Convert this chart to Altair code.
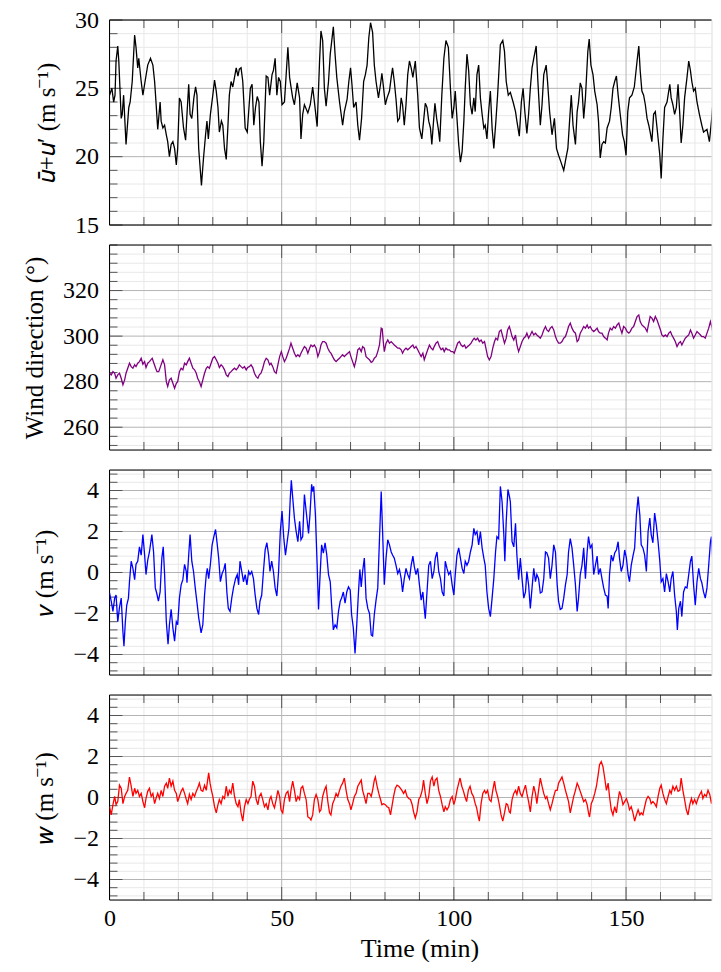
import altair as alt
import pandas as pd

# ---------------- data ----------------
u_t = [0.0, 0.7, 1.2, 1.6, 1.9, 2.4, 2.7, 3.4, 3.7, 4.1, 4.8, 5.6, 6.0, 6.6, 7.3, 7.7, 8.2, 8.5, 9.2, 9.7,
       10.2, 11.1, 11.9, 12.6, 13.1, 13.5, 14.0, 14.7, 15.0, 15.5, 16.0, 16.5, 16.9, 17.4, 17.9, 18.4, 18.9, 19.4, 19.8,
       20.3, 20.8, 21.5, 22.1, 22.5, 23.0, 23.4, 23.9, 24.5, 25.0, 25.4, 25.9, 26.7, 27.3, 27.9, 28.3, 28.7, 29.3,
       30.0, 30.5, 31.0, 31.5, 31.9, 32.5, 32.9, 33.4, 33.9, 34.4, 34.8, 35.3, 35.8, 36.3, 36.8, 37.3, 37.7, 38.2, 38.7,
       39.4, 40.0, 40.5, 40.9, 41.4, 41.9, 42.4, 42.9, 43.4, 43.8, 44.3, 44.8, 45.5, 46.0, 46.5, 47.2, 47.6, 48.1, 48.6,
       49.1, 49.6, 50.1, 50.8, 51.3, 51.8, 52.3, 52.7, 53.2, 53.7, 54.5, 55.2, 55.6, 56.1,
       56.6, 57.6, 58.3, 59.0, 59.5, 60.3, 61.0, 61.4, 61.9, 62.4, 62.9, 63.6, 64.1, 65.0, 65.5, 66.0, 66.8, 67.7, 68.2,
       69.0, 69.5, 70.0, 70.4, 70.9, 71.6, 72.1, 72.6, 73.2, 73.8, 74.3, 74.8, 75.3, 75.8, 76.4, 76.9, 77.4, 78.1, 78.7,
       79.1, 79.6, 80.1, 80.6, 81.3, 81.8, 82.2, 82.7, 83.2, 83.7, 84.2, 84.7, 85.1, 85.6, 86.1, 86.6, 87.1, 87.6, 88.1,
       88.8, 89.5, 90.0, 90.7, 91.2, 91.7, 92.2, 92.7, 93.2, 93.6, 94.1, 94.5, 95.0, 95.5, 95.9, 96.5, 97.1, 97.7, 98.4,
       99.0, 99.5, 100.0, 100.4, 100.9, 101.4, 101.9, 102.4, 102.9, 103.3, 103.8, 104.3, 104.8, 105.3, 105.8, 106.2,
       106.7, 107.2, 107.7, 108.2, 108.7, 109.1, 109.6, 110.1, 110.6, 111.1, 111.6, 112.2, 112.7, 113.5, 114.2, 114.7,
       115.2, 115.8,
       116.4, 117.2, 117.9, 118.3, 119.0, 119.6, 120.1, 120.6, 121.2, 121.7, 122.2, 122.7, 123.2, 123.9, 124.4, 125.1,
       125.6, 126.1, 126.8, 127.2, 127.8, 128.5, 129.2, 129.8, 130.4, 131.1, 131.9, 132.7, 133.1, 133.6, 134.1, 134.6,
       135.3, 135.8, 136.2, 136.7, 137.2, 137.7, 138.2, 138.9, 139.3, 139.8, 140.4, 140.9, 141.6, 142.0, 142.5, 143.0,
       143.5, 144.0, 144.5, 145.2, 145.7, 146.2, 146.7, 147.2, 147.7, 148.3, 149.0, 149.5, 150.0, 150.5, 151.0, 151.7,
       152.4, 153.2, 153.7, 154.1, 154.6, 155.1, 155.6, 156.1, 156.6, 157.0, 157.5, 158.0, 158.5, 159.0, 159.8, 160.2,
       160.7, 161.2, 161.9, 162.7, 163.1, 163.6, 164.1, 164.6, 165.1, 165.6, 166.0, 166.5, 167.0, 167.7, 168.2, 168.7,
       169.1, 169.6, 170.1, 170.6, 171.3, 172.0, 172.5, 173.5, 174.2, 174.8, 175.4, 175.9, 176.4, 177.2]
u_val = [24.5, 25.0, 24.0, 24.5, 27.0, 28.1, 27.0, 22.8, 23.1, 24.5, 20.9, 23.6, 24.0, 25.5, 28.9, 28.0, 26.5, 27.2, 25.5, 24.5,
         25.3, 26.7, 27.2, 26.7, 25.5, 24.0, 22.0, 24.0, 22.6, 22.1, 22.3, 21.6, 21.1, 20.0, 20.9, 21.1, 20.6, 19.4, 20.6,
         24.3, 24.0, 22.1, 21.2, 23.1, 25.3, 23.1, 22.8, 24.3, 25.1, 24.5, 20.6, 17.9, 19.9, 21.6, 22.6, 21.3, 23.1,
         24.5, 25.6, 24.8, 23.6, 21.8, 22.6, 22.3, 20.6, 19.8, 22.3, 24.5, 25.5, 25.1, 25.8, 26.5, 25.9, 26.4, 26.5, 25.5,
         22.1, 21.8, 23.6, 25.0, 25.3, 22.3, 23.6, 24.4, 24.0, 21.1, 19.3, 21.1, 25.9, 25.8, 24.5, 26.0, 26.3, 27.2, 24.5,
         25.8, 25.5, 23.8, 24.0, 26.0, 28.0, 25.8, 25.1, 24.3, 23.8, 25.4, 24.3, 21.3, 23.1,
         23.8, 23.2, 23.8, 25.1, 24.0, 22.2, 27.0, 29.2, 28.5, 25.0, 23.7, 25.5, 27.5, 29.5, 27.5, 25.8, 24.0, 22.3, 23.3,
         24.2, 25.5, 26.5, 25.3, 23.6, 24.0, 22.3, 21.2, 22.8, 25.5, 26.0, 26.7, 28.7, 29.8, 29.1, 26.7, 25.5, 24.3, 25.3,
         26.1, 25.0, 23.8, 24.3, 24.8, 25.8, 26.5, 25.5, 24.2, 22.6, 22.8, 24.3, 23.8, 22.3, 23.8, 26.0, 27.0, 26.5, 25.8,
         27.0, 24.5, 22.1, 21.3, 22.6, 23.9, 23.6, 22.6, 22.1, 20.9, 22.6, 23.9, 22.8, 22.0, 21.1, 24.5, 27.2, 28.5, 28.0,
         25.0, 22.8, 23.6, 24.8, 22.8, 20.9, 19.6, 20.4, 22.6, 25.0, 27.5, 26.3, 23.8, 23.1, 24.3, 23.3,
         26.0, 26.7, 24.3, 23.1, 22.1, 22.3, 21.3, 23.3, 24.8, 22.1, 20.6, 22.6, 24.5, 28.2, 28.5, 27.7,
         25.5, 24.5,
         24.7, 24.0, 23.3, 22.6, 21.5, 24.0, 25.0, 23.3, 21.7, 23.1, 25.0, 26.5, 27.2, 28.1, 25.5, 22.3,
         23.8, 26.0, 26.7, 25.5, 23.3, 21.6, 22.8, 20.6, 20.1, 19.6, 19.0, 20.1, 20.6, 22.6, 24.5, 22.3,
         20.9, 23.3, 24.0, 25.4, 25.0, 22.8, 24.3, 27.7, 28.6, 26.7, 26.0, 24.8, 23.8, 22.6, 19.9, 20.9,
         21.1, 21.0, 22.1, 22.6, 23.6, 25.0, 25.5, 25.9, 24.5, 23.1, 21.6, 21.1, 20.1, 23.3, 24.3, 24.5,
         25.1, 27.0, 28.1, 26.3, 24.8, 24.5, 23.8, 22.8, 22.3, 21.8, 21.1, 23.1, 23.3, 22.1, 20.1, 18.4,
         21.3, 23.6, 24.0, 25.3, 24.3, 23.8, 23.1, 23.6, 25.3, 23.1, 21.0, 22.3, 24.3, 25.8, 27.0, 26.3,
         25.5, 24.8, 25.0, 24.0, 23.1, 22.3, 21.8, 22.0, 21.1, 22.6, 24.5, 25.3, 25.5, 24.5]

dir_t = [0.0, 0.5, 1.0, 1.5, 1.9, 2.4, 2.9, 3.4, 3.9, 4.4, 4.8, 5.3, 5.8, 6.3, 6.8, 7.3, 7.7, 8.2, 8.7, 9.2, 9.7,
         10.2, 10.6, 11.1, 11.6, 12.4, 12.9, 13.4, 13.8, 14.3, 14.8, 15.5, 16.0, 16.5, 16.9, 17.4, 17.9, 18.4, 18.9,
         19.4, 19.8, 20.3, 20.8, 21.3, 21.8, 22.3, 22.7, 23.2, 23.7, 24.2, 24.7, 25.2, 25.6, 26.1, 26.6, 27.1, 27.6,
         28.1, 28.5, 29.0, 29.5, 30.0, 30.5, 31.0, 31.5, 31.9, 32.4, 32.9, 33.4, 33.9, 34.4, 34.8, 35.3, 35.8, 36.3,
         36.8, 37.3, 37.7, 38.2, 38.7, 39.2, 39.7, 40.1, 40.6, 41.1, 41.6, 42.1, 42.6, 43.1, 43.5, 44.0, 44.5, 45.0,
         45.5, 46.0, 46.5, 46.9, 47.4, 47.9, 48.4, 48.9, 49.4, 49.9, 50.3, 50.8, 51.3, 51.8, 52.3, 52.7, 53.2, 53.7,
         54.2, 54.7, 55.2, 55.6, 56.1,
         56.6, 57.1, 57.6, 58.1, 58.5, 59.0, 59.5, 60.0, 60.5, 61.0, 61.4, 61.9, 62.4, 62.9, 63.4, 63.9, 64.3, 64.8,
         65.3, 65.8, 66.3, 66.8, 67.2, 67.7, 68.2, 68.7, 69.2, 69.7, 70.1, 70.6, 71.1, 71.6, 72.1, 72.6, 73.1, 73.5,
         74.0, 74.5, 75.0, 75.5, 76.0, 76.4, 76.9, 77.4, 77.9, 78.4, 78.9, 79.2, 79.5, 79.8, 80.3, 80.8, 81.3, 81.8,
         82.2, 82.7, 83.2, 83.7, 84.2, 84.7, 85.1, 85.6, 86.1, 86.6, 87.1, 87.6, 88.1, 88.5, 89.0, 89.5, 90.0, 90.5,
         91.0, 91.4, 91.9, 92.4, 92.9, 93.4, 93.9, 94.3, 94.8, 95.3, 95.8, 96.3, 96.8, 97.2, 97.7, 98.2, 98.7, 99.2,
         99.7, 100.1, 100.6, 101.1, 101.6, 102.1, 102.6, 103.1, 103.5, 104.0, 104.5, 105.0, 105.5, 105.9, 106.4, 106.9,
         107.4, 107.9, 108.4, 108.9, 109.3, 109.8, 110.3, 110.8, 111.3, 111.8, 112.2, 112.7, 113.2, 113.7, 114.2, 114.7,
         115.2, 115.6, 116.1,
         116.4, 116.9, 117.4, 117.9, 118.3, 118.8, 119.3, 119.8, 120.3, 120.8, 121.2, 121.7, 122.2, 122.7, 123.2, 123.7,
         124.1, 124.6, 125.1, 125.6, 126.1, 126.6, 127.0, 127.5, 128.0, 128.5, 129.0, 129.5, 129.9, 130.4, 130.9, 131.4,
         131.9, 132.4, 132.9, 133.3, 133.8, 134.3, 134.8, 135.3, 135.8, 136.2, 136.7, 137.2, 137.7, 138.2, 138.7, 139.1,
         139.6, 140.1, 140.6, 141.1, 141.6, 142.0, 142.5, 143.0, 143.5, 144.0, 144.5, 144.9, 145.4, 145.9, 146.4, 146.9,
         147.4, 147.9, 148.3, 148.8, 149.3, 149.8, 150.3, 150.8, 151.2, 151.7, 152.2, 152.7, 153.2, 153.7, 154.1, 154.6,
         155.1, 155.6, 156.1, 156.6, 157.0, 157.5, 158.0, 158.5, 159.0, 159.5, 160.0, 160.4, 160.9, 161.4, 161.9, 162.4,
         162.9, 163.3, 163.8, 164.3, 164.8, 165.3, 165.8, 166.2, 166.7, 167.2, 167.7, 168.2, 168.7, 169.1, 169.6, 170.1,
         170.6, 171.1, 171.6, 172.0, 172.5, 173.0, 173.5, 174.0, 174.5, 175.0, 175.4, 175.9, 176.4, 176.9, 177.4]
dir_val = [283.7, 283.0, 284.4, 283.7, 281.5, 283.0, 283.7, 281.5, 278.6, 280.8, 283.7, 285.9, 288.1, 286.6, 285.9, 287.4, 286.6, 288.1, 288.8, 290.3, 287.7,
           288.8, 286.2, 288.1, 288.8, 290.3, 288.1, 285.9, 284.4, 284.4, 286.6, 289.6, 287.4, 280.0, 277.9, 280.8, 281.5, 279.3, 277.1,
           279.3, 280.0, 284.4, 285.9, 285.2, 288.1, 287.4, 288.8, 290.3, 288.1, 285.9, 285.2, 283.7, 281.5, 280.0, 277.9, 280.8, 283.7,
           285.9, 286.6, 285.9, 288.1, 290.3, 291.0, 289.6, 288.1, 286.2, 287.4, 286.6, 285.2, 283.0, 282.2, 283.7, 284.4, 285.2, 285.9,
           285.2, 286.2, 287.4, 286.6, 285.9, 286.6, 285.2, 286.2, 286.6, 287.4, 286.2, 283.7, 282.2, 281.5, 283.0, 283.7, 285.9, 288.8,
           290.3, 289.6, 287.4, 288.1, 286.6, 284.4, 283.7, 287.4, 291.0, 293.2, 291.0, 288.8, 290.3, 292.5, 294.7, 296.9, 294.7, 292.5,
           291.0, 291.8, 291.0, 292.5, 294.0,
           295.4, 294.7, 292.5, 294.7, 296.1, 295.4, 296.1, 294.7, 291.0, 293.2, 296.1, 297.6, 297.6, 296.9, 294.7, 293.2, 292.5, 291.0,
           289.6, 288.8, 289.6, 290.3, 291.0, 291.8, 291.0, 291.8, 292.5, 293.2, 291.0, 288.8, 286.6, 289.6, 294.0, 294.7, 293.2, 295.4,
           294.7, 291.0, 290.3, 289.6, 288.5, 288.8, 290.3, 291.0, 293.2, 296.1, 303.5, 303.2, 297.6, 293.2, 296.9, 298.3, 296.9, 297.6,
           296.9, 296.1, 295.4, 294.7, 294.7, 294.0, 292.5, 294.0, 294.7, 294.0, 294.7, 295.4, 296.1, 294.7, 295.4, 294.0, 292.5, 291.0,
           292.5, 289.6, 291.8, 294.0, 296.1, 294.7, 294.0, 295.4, 296.9, 297.6, 295.4, 294.0, 294.7, 293.2, 294.7, 294.0, 294.0, 293.2,
           293.2, 292.5, 294.7, 296.9, 297.6, 296.1, 295.4, 296.1, 294.7, 295.4, 296.1, 296.9, 298.3, 299.1, 298.3, 299.1,
           297.6, 298.3, 296.9, 297.6, 294.7, 291.0, 289.6, 291.0, 294.7, 297.6, 299.1, 298.3, 302.0, 302.7, 299.8, 296.9,
           299.1, 302.7, 304.2,
           302.7, 299.8, 298.3, 300.5, 296.1, 293.2, 295.4, 297.6, 299.1, 299.8, 301.3, 299.1, 300.5, 302.0, 300.5, 301.3,
           300.5, 299.8, 299.1, 300.5, 302.7, 304.2, 302.7, 302.0, 303.5, 304.2, 302.7, 299.8, 298.3, 296.9, 296.9, 297.6,
           299.1, 299.8, 302.0, 304.2, 305.7, 303.5, 302.0, 301.3, 297.6, 298.3, 301.3, 302.7, 304.2, 303.5, 304.9, 303.5,
           304.2, 302.7, 302.0, 302.7, 303.5, 302.0, 301.3, 301.3, 299.8, 299.1, 298.3, 301.3, 303.5, 302.7, 304.2, 303.5,
           304.9, 305.7, 303.5, 301.3, 304.2, 303.5, 302.0, 301.3, 302.0, 303.5, 304.2, 306.4, 308.6, 309.3, 306.4, 304.9,
           304.2, 303.5, 302.0, 305.7, 308.6, 307.9, 306.4, 308.6, 307.1, 304.9, 302.7, 300.5, 299.8, 300.5, 299.8, 301.3,
           302.0, 300.5, 299.1, 297.6, 295.4, 296.9, 297.6, 296.1, 297.6, 299.1, 299.8, 300.5, 302.7, 301.3, 299.1, 300.5,
           302.0, 301.3, 300.5, 299.8, 299.8, 299.1, 301.3, 303.5, 306.4, 303.5, 299.1, 297.6, 299.1, 301.3, 302.0]

v_t = [0.0, 0.5, 1.0, 1.5, 1.9, 2.4, 2.9, 3.4, 3.9, 4.2, 4.6, 5.0, 5.5, 5.8, 6.3, 6.8, 7.3, 7.7, 8.2, 8.7, 9.2, 9.7,
       10.2, 10.6, 11.1, 11.6, 12.3, 12.8, 13.3, 13.7, 14.2, 14.7, 15.2, 15.6, 16.0, 16.5, 17.0, 17.4, 17.9, 18.4,
       18.9, 19.4, 19.8, 20.3, 20.8, 21.3, 21.8, 22.3, 22.5, 23.0, 23.4, 23.9, 24.4, 24.9, 25.5, 25.9, 26.6, 27.1,
       27.6, 28.1, 28.4, 28.8, 29.3, 29.8, 30.3, 30.8, 31.3, 31.7, 32.2, 32.7, 33.2, 33.6, 34.1, 34.5, 35.0, 35.5,
       36.0, 36.6, 37.1, 37.5, 37.9, 38.4, 38.9, 39.4, 39.9, 40.4, 40.8, 41.3, 41.8, 42.3, 42.8, 43.3, 43.7, 44.2,
       44.7, 45.2, 45.7, 46.2, 46.6, 47.1, 47.6, 48.1, 48.6, 49.1, 49.6, 50.1, 50.6, 51.1, 51.6, 52.1, 52.5, 52.8,
       53.2, 53.7, 54.2, 54.7, 55.2, 55.6, 56.1,
       56.6, 57.1, 57.8, 58.2, 58.7, 59.0, 59.3, 59.8, 60.3, 60.7, 61.1, 61.6, 62.1, 62.6, 63.1, 63.6, 64.1, 64.5,
       65.0, 65.5, 66.0, 66.5, 67.0, 67.4, 67.9, 68.4, 68.9, 69.4, 69.9, 70.3, 70.8, 71.3, 71.8, 72.3, 72.7, 73.1,
       73.5, 74.0, 74.5, 75.0, 75.5, 76.0, 76.4, 76.9, 77.4, 77.9, 78.4, 78.9, 79.3, 79.8, 80.3, 80.8, 81.3, 81.8,
       82.2, 82.7, 83.2, 83.7, 84.2, 84.7, 85.1, 85.6, 86.1, 86.6, 87.1, 87.6, 88.1, 88.5, 89.0, 89.5, 90.0, 90.5,
       91.0, 91.4, 91.7, 92.2, 92.7, 93.2, 93.7, 94.2, 94.6, 95.1, 95.6, 96.1, 96.6, 97.1, 97.5, 98.0, 98.5, 99.0,
       99.5, 100.0, 100.4, 100.9, 101.4, 101.9, 102.4, 102.9, 103.3, 103.8, 104.3, 104.8, 105.3, 105.8, 106.2, 106.7,
       107.2, 107.7, 108.2, 108.7, 109.1, 109.6, 110.1, 110.6, 111.1, 111.6, 112.1, 112.5, 113.0, 113.5, 114.0, 114.5,
       114.8, 115.2, 115.7, 116.2,
       116.4, 116.9, 117.4, 117.9, 118.3, 118.8, 119.3, 119.8, 120.3, 120.8, 121.2, 121.7, 122.2, 122.7, 123.2, 123.7,
       124.1, 124.6, 125.1, 125.6, 126.1, 126.6, 127.0, 127.5, 128.0, 128.5, 129.0, 129.5, 130.0, 130.4, 130.9, 131.4,
       131.9, 132.4, 132.9, 133.3, 133.8, 134.3, 134.8, 135.3, 135.8, 136.2, 136.7, 137.2, 137.7, 138.2, 138.7, 139.1,
       139.6, 140.1, 140.6, 141.1, 141.6, 142.0, 142.5, 143.0, 143.5, 144.0, 144.5, 144.8, 145.2, 145.7, 146.2, 146.7,
       147.2, 147.7, 148.1, 148.6, 149.1, 149.6, 150.1, 150.6, 151.0, 151.5, 152.0, 152.5, 153.0, 153.5, 154.0, 154.4,
       154.9, 155.4, 155.9, 156.4, 156.9, 157.3, 157.8, 158.3, 158.8, 159.3, 159.8, 160.2, 160.7, 161.2, 161.7, 162.2,
       162.7, 163.1, 163.6, 164.1, 164.6, 164.9, 165.3, 165.8, 166.2, 166.7, 167.2, 167.7, 168.2, 168.7, 169.1, 169.6,
       170.1, 170.6, 171.1, 171.6, 172.0, 172.5, 173.0, 173.5, 174.0, 174.5, 174.8, 175.2, 175.7, 176.2, 176.7, 177.2]
v_val = [-1.0, -1.4, -1.9, -1.25, -1.1, -2.4, -1.7, -1.25, -2.9, -3.6, -2.4, -1.6, -1.25, -0.45, 0.55, 0.2, -0.35, 0.4, 0.55, 1.25, 0.85, 1.85,
         0.85, -0.1, 0.6, 1.0, 1.85, 1.0, -0.75, -1.0, -1.4, -0.95, 0.7, 1.25, -0.1, -2.4, -3.5, -2.55, -1.8, -2.7,
         -3.35, -2.4, -2.55, -1.25, -0.6, -0.35, 0.4, 0.05, -0.5, 0.85, 1.85, 0.55, 0.05, -0.75, -1.6, -2.2, -2.95, -2.55,
         -1.1, -0.1, 0.2, -0.3, 0.4, 1.35, 1.75, 2.1, 1.35, 0.7, -0.45, -0.05, 0.15, 0.45, -1.0, -1.75, -1.9, -1.25,
         -0.75, -0.3, -0.1, -0.6, 0.55, 0.05, -0.45, -0.1, -0.6, 0.05, -0.1, 0.05, -0.3, -1.1, -1.75, -2.05, -1.4, -1.1,
         0.05, 1.1, 1.45, 0.85, 0.05, 0.55, 0.05, -0.75, -1.15, 0.05, 2.0, 3.0, 1.7, 0.85, 1.5, 2.15, 3.65, 4.5,
         3.65, 2.65, 2.0, 1.5, 2.5, 1.6, 1.75,
         3.8, 3.0, 1.9, 2.8, 4.3, 3.95, 4.2, 2.8, 0.35, -1.8, -0.3, 1.35, 0.95, 1.45, 0.85, -0.1, -0.45, -1.6,
         -2.8, -2.55, -2.7, -1.9, -1.4, -1.25, -0.95, -1.5, -0.95, -0.7, -0.85, -2.05, -2.7, -3.95, -2.55, -0.95, 0.15, -0.7,
         0.05, 0.7, -1.25, -1.75, -2.0, -3.05, -3.1, -2.05, -1.35, -0.75, 1.65, 3.95, 2.0, -0.6, 0.7, 1.6, 1.35, 1.0,
         0.85, 0.7, 0.35, -0.05, 0.15, -0.3, -0.95, -0.3, 0.2, -0.1, -0.3, 0.35, 0.8, 0.3, -0.1, 0.2, -0.6, -1.35,
         -0.95, -1.75, -2.25, -0.95, 0.35, 0.55, -0.3, 0.05, 0.7, 1.0, 0.05, -0.3, -0.95, -1.15, 0.55, 0.2, -0.1, 0.05,
         -0.6, -1.1, -0.1, 0.85, 1.2, 0.7, 0.2, -0.05, 0.55, 0.35, 0.55, 1.0, 1.35, 2.15, 1.85, 2.0,
         1.35, 2.0, 1.2, 0.7, 0.35, -0.95, -1.75, -2.15, -1.25, -0.3, 1.0, 1.75, 1.65, 4.2, 3.45, 1.85,
         0.55, 2.5, 4.05, 3.65,
         3.45, 1.5, 1.25, 2.4, 0.85, -0.35, 0.7, -0.3, -1.25, -0.95, 0.05, -0.6, -1.75, -0.75, 0.2, -0.45,
         -0.1, -0.3, -1.0, -0.95, -0.3, 1.0, 0.95, 0.7, -0.3, 0.35, 1.35, 1.0, -0.6, -1.4, -1.8, -1.75,
         -1.25, -0.6, -0.1, 1.0, 1.65, 1.2, 0.35, -0.6, -1.9, -1.25, -0.1, 0.35, 1.2, -0.3, 1.0, 1.75,
         1.2, 1.35, -0.1, 0.35, 0.8, -0.1, 0.2, -0.3, -0.75, -1.1, -1.15, -1.75, -0.1, 0.85, 0.55, 0.95,
         1.1, 1.5, 0.7, 0.05, 0.35, 1.1, 0.7, -0.1, -0.45, 0.35, 0.8, 1.2, 2.8, 3.7, 2.8, 1.35,
         1.2, 0.85, 0.05, 2.0, 2.65, 1.85, 1.45, 2.9, 2.3, 1.5, 0.55, -0.45, -0.3, -0.95, -0.05, -0.45,
         -0.95, -0.3, 0.05, -1.1, -1.9, -2.8, -1.75, -1.4, -2.15, -0.95, -0.7, -0.75, -0.1, 0.55, 0.8, -0.6,
         -1.6, -0.45, 0.2, -0.3, -0.5, -0.95, -1.25, -0.75, 0.35, 1.5, 1.75, 0.55, -1.6, -2.0, -1.25, 0.2]

w_t = [0.0, 0.5, 1.0, 1.5, 1.9, 2.4, 2.9, 3.4, 3.9, 4.4, 4.8, 5.3, 5.8, 6.3, 6.8, 7.3, 7.7, 8.2, 8.7, 9.2, 9.7,
       10.2, 10.6, 11.1, 11.6, 12.1, 12.6, 13.1, 13.5, 14.0, 14.5, 15.0, 15.5, 16.0, 16.5, 16.9, 17.4, 17.9, 18.4,
       18.9, 19.4, 19.8, 20.3, 20.8, 21.3, 21.8, 22.3, 22.7, 23.2, 23.7, 24.2, 24.7, 25.2, 25.6, 26.1, 26.6, 27.1,
       27.6, 28.1, 28.5, 28.8, 29.2, 29.6, 30.0, 30.5, 31.0, 31.5, 31.9, 32.4, 32.9, 33.4, 33.9, 34.4, 34.8, 35.3,
       35.8, 36.3, 36.8, 37.3, 37.7, 38.2, 38.7, 39.2, 39.7, 40.2, 40.6, 41.1, 41.6, 42.1, 42.6, 43.1, 43.5, 44.0,
       44.5, 45.0, 45.5, 46.0, 46.5, 46.9, 47.4, 47.9, 48.4, 48.9, 49.4, 49.8, 50.3, 50.8, 51.3, 51.8, 52.3, 52.7,
       53.2, 53.7, 54.2, 54.7, 55.2, 55.6, 56.1,
       56.6, 57.1, 57.6, 58.1, 58.5, 59.0, 59.5, 60.0, 60.5, 61.0, 61.4, 61.9, 62.4, 62.9, 63.4, 63.9, 64.3, 64.8,
       65.3, 65.8, 66.3, 66.8, 67.2, 67.7, 68.2, 68.7, 69.2, 69.7, 70.1, 70.6, 71.1, 71.6, 72.1, 72.6, 73.1, 73.5,
       74.0, 74.5, 75.0, 75.5, 76.0, 76.4, 76.9, 77.2, 77.7, 78.2, 78.7, 79.1, 79.6, 80.1, 80.6, 81.1, 81.6, 82.1,
       82.5, 83.0, 83.5, 84.0, 84.5, 84.9, 85.4, 85.9, 86.4, 86.9, 87.4, 87.9, 88.3, 88.8, 89.3, 89.8, 90.3, 90.8,
       91.2, 91.7, 92.2, 92.7, 93.2, 93.7, 94.2, 94.6, 95.1, 95.6, 96.1, 96.6, 97.1, 97.5, 98.0, 98.5, 99.0, 99.5,
       100.0, 100.4, 100.9, 101.4, 101.8, 102.3, 102.8, 103.2, 103.7, 104.2, 104.7, 105.2, 105.7, 106.2, 106.6, 107.1,
       107.4, 107.9, 108.4, 108.9, 109.3, 109.8, 110.3, 110.8, 111.3, 111.8, 112.2, 112.7, 113.2, 113.7, 114.2, 114.7,
       115.2, 115.6, 116.1,
       116.4, 116.9, 117.4, 117.9, 118.3, 118.8, 119.3, 119.8, 120.3, 120.8, 121.2, 121.7, 122.2, 122.7, 123.2, 123.7,
       124.1, 124.6, 125.1, 125.6, 126.1, 126.6, 127.0, 127.5, 128.0, 128.5, 129.0, 129.5, 130.0, 130.4, 130.9, 131.4,
       131.9, 132.4, 132.9, 133.3, 133.8, 134.3, 134.8, 135.3, 135.8, 136.2, 136.7, 137.2, 137.7, 138.2, 138.7, 139.1,
       139.4, 139.9, 140.4, 140.9, 141.4, 141.9, 142.3, 142.8, 143.3, 143.8, 144.3, 144.8, 145.2, 145.7, 146.2, 146.7,
       147.2, 147.7, 148.1, 148.6, 149.1, 149.6, 150.1, 150.6, 151.0, 151.5, 152.0, 152.5, 153.0, 153.5, 154.0, 154.4,
       154.9, 155.4, 155.9, 156.4, 156.9, 157.3, 157.8, 158.3, 158.8, 159.3, 159.8, 160.2, 160.7, 161.2, 161.7, 162.2,
       162.7, 163.1, 163.6, 164.1, 164.6, 165.1, 165.6, 166.0, 166.5, 167.0, 167.5, 168.0, 168.5, 169.0, 169.4, 169.9,
       170.4, 170.9, 171.4, 171.9, 172.3, 172.8, 173.3, 173.8, 174.3, 174.8, 175.2, 175.7, 176.2, 176.7, 177.2]
w_val = [-0.45, -0.85, -0.35, 0.05, -0.35, -0.2, 0.6, 0.45, -0.3, 0.05, 0.2, 0.35, 1.0, 0.55, 0.05, 0.45, 0.2, 0.35, 0.05, 0.2, -0.2,
         -0.5, -0.05, 0.3, 0.45, 0.05, 0.2, -0.3, -0.05, 0.2, -0.05, 0.35, 0.05, 0.55, 0.7, 0.45, 0.95, 0.55, 0.8,
         0.35, 0.2, -0.2, 0.05, 0.3, 0.45, 0.2, -0.1, -0.3, 0.15, -0.1, 0.2, 0.05, 0.3, 0.45, 0.7, 0.35, 0.3,
         0.6, 0.35, 0.85, 1.2, 0.7, 0.35, 0.05, -0.45, -0.75, -0.35, -0.1, -0.3, 0.05, -0.05, 0.55, 0.05, 0.35, 0.2,
         0.7, 0.05, -0.3, -0.45, -0.1, -0.75, -1.15, -0.45, -0.1, -0.3, -0.1, 0.05, 0.8, 0.55, -0.1, -0.35, 0.05, 0.2,
         -0.1, -0.45, -0.3, -0.6, -0.1, 0.05, -0.3, -0.5, -0.1, 0.35, 0.05, -0.6, -0.75, -0.1, 0.2, 0.3, -0.2, 0.35,
         0.8, 0.35, -0.2, 0.05, -0.1, 0.45, 0.55,
         0.2, -0.1, -0.95, -1.0, -1.1, -0.85, -0.1, 0.15, -0.1, -0.7, -0.6, 0.05, 0.35, 0.55, -0.2, -0.75, -0.85, -0.3,
         -0.1, 0.2, 0.05, 0.35, 0.55, 0.7, 0.95, 0.35, -0.1, -0.3, -0.6, -0.3, 0.05, 0.2, 0.55, 0.7, 0.85, 0.35,
         0.05, -0.3, 0.2, 0.2, 0.05, 0.35, 0.85, 1.0, 0.55, 0.2, -0.1, -0.35, -0.3, -0.35, -0.45, -0.5, -0.85, -0.35,
         0.05, 0.45, 0.6, 0.55, 0.45, 0.35, 0.2, 0.35, 0.05, -0.05, -0.1, -0.35, -0.7, -1.0, -0.7, -0.1, 0.05, 0.35,
         0.85, 0.2, -0.3, 0.05, 0.8, 1.0, 0.55, 0.85, 0.95, 0.35, 0.05, -0.35, -0.7, -0.45, -0.6, -0.45, -0.1, 0.05,
         -0.35, -0.1, 0.35, 0.7, 0.95, 0.55, 0.3, 0.05, -0.2, 0.35, 0.55, 0.2, 0.05, -0.3, -0.5, -0.95,
         -1.15, -0.3, 0.2, 0.35, 0.2, 0.35, -0.1, -0.2, 0.35, 0.8, 0.35, 0.05, -0.35, -0.85, -1.15, -0.75,
         -0.3, -0.35, -0.7,
         -0.75, -0.1, 0.2, 0.35, 0.15, 0.55, 0.2, 0.05, 0.35, 0.6, 0.2, -0.2, -0.7, 0.05, 0.55, 0.2,
         -0.3, 0.35, 0.95, 0.55, 0.2, -0.05, 0.05, -0.3, -0.6, -0.3, 0.05, 0.35, 0.35, 0.7, 0.85, 1.0,
         0.7, 0.35, 0.05, -0.2, -0.75, -0.35, 0.05, 0.35, 0.7, 0.55, 0.3, 0.05, -0.2, -0.1, -0.35, -0.75,
         -0.95, -0.3, -0.1, 0.2, 0.55, 1.1, 1.6, 1.75, 1.5, 0.95, 0.35, 0.7, 0.05, -0.6, -0.85, -0.45,
         -0.75, -0.1, 0.3, 0.05, -0.35, -0.2, -0.05, -0.3, -0.6, -0.45, -0.75, -1.15, -0.85, -0.6, -0.85, -0.75,
         -0.85, -0.45, -0.1, 0.05, -0.05, -0.3, -0.2, -0.3, -0.45, 0.05, 0.45, 0.6, 0.2, -0.1, -0.3, 0.05,
         0.35, 0.2, 0.55, 0.35, 0.55, 0.3, 0.35, 0.95, 0.35, -0.1, -0.6, -0.85, -0.35, -0.05, -0.3, -0.1,
         -0.3, -0.05, 0.15, 0.3, -0.05, 0.15, 0.05, 0.35, 0.15, -0.3, 0.05, 0.35, 0.05, -0.1, -0.6]

# ---------------- axes / layout constants ----------------
W, H = 602, 205
X_END = W / 3.4437       # same minutes-per-pixel as the reference (its axis runs to 180, cut by the window)
x_major = [0, 50, 100, 150]
x_minor = [m for m in range(0, 180, 10) if m not in x_major and m < X_END]

FONT = "Liberation Serif"
MINOR_LEN, MAJOR_LEN = 8, 13
GRID_MINOR = "#e8e8e8"
GRID_MAJOR = "#b4b4b4"
TICK_COLOR = "#555555"


def panel(t, vals, color, ydom, ymajor, yminor, ytitle, bottom):
    xs = alt.Scale(domain=[0, X_END], nice=False, zero=False)
    ys = alt.Scale(domain=ydom, nice=False, zero=False)
    if bottom:
        xaxis = alt.Axis(values=x_major, title="Time (min)", grid=False, ticks=False, tickSize=0,
                         domain=False, labelFont=FONT, labelFontSize=24, labelColor="black",
                         labelPadding=6, labelFlush=False, labelOverlap=False,
                         titleFont=FONT, titleFontSize=26, titleFontWeight="normal",
                         titleColor="black", titlePadding=5, titleX=(180 / X_END) * W / 2)
    else:
        xaxis = None
    yaxis = alt.Axis(values=ymajor, title=ytitle, grid=False, ticks=False, tickSize=0, domain=False,
                     labelFont=FONT, labelFontSize=24, labelColor="black", labelPadding=11,
                     labelFlush=False, labelOverlap=False, titleFont=FONT, titleFontSize=25,
                     titleFontWeight="normal", titleColor="black", titlePadding=15)
    X = alt.X("t:Q", scale=xs, axis=xaxis)
    Y = alt.Y("val:Q", scale=ys, axis=yaxis)

    xmin_df = pd.DataFrame({"t": x_minor})
    xmaj_df = pd.DataFrame({"t": x_major})
    ymin_df = pd.DataFrame({"val": [v for v in yminor if v not in ymajor]})
    ymaj_df = pd.DataFrame({"val": ymajor})
    one = pd.DataFrame({"t": [0]})

    layers = [
        alt.Chart(xmin_df).mark_rule(color=GRID_MINOR, strokeWidth=1).encode(x=X),
        alt.Chart(ymin_df).mark_rule(color=GRID_MINOR, strokeWidth=1).encode(y=Y),
        alt.Chart(xmaj_df).mark_rule(color=GRID_MAJOR, strokeWidth=1).encode(x=X),
        alt.Chart(ymaj_df).mark_rule(color=GRID_MAJOR, strokeWidth=1).encode(y=Y),
        # inward ticks (top / bottom)
        alt.Chart(xmin_df).mark_rule(color=TICK_COLOR, strokeWidth=1).encode(
            x=X, y=alt.value(0), y2=alt.value(MINOR_LEN)),
        alt.Chart(xmin_df).mark_rule(color=TICK_COLOR, strokeWidth=1).encode(
            x=X, y=alt.value(H), y2=alt.value(H - MINOR_LEN)),
        alt.Chart(xmaj_df).mark_rule(color=TICK_COLOR, strokeWidth=1).encode(
            x=X, y=alt.value(0), y2=alt.value(MAJOR_LEN)),
        alt.Chart(xmaj_df).mark_rule(color=TICK_COLOR, strokeWidth=1).encode(
            x=X, y=alt.value(H), y2=alt.value(H - MAJOR_LEN)),
        # inward ticks (left)
        alt.Chart(ymin_df).mark_rule(color=TICK_COLOR, strokeWidth=1).encode(
            y=Y, x=alt.value(0), x2=alt.value(MINOR_LEN)),
        alt.Chart(ymaj_df).mark_rule(color=TICK_COLOR, strokeWidth=1).encode(
            y=Y, x=alt.value(0), x2=alt.value(MAJOR_LEN)),
        # frame: top, bottom, left (the right side lies outside the window)
        alt.Chart(one).mark_rule(color="black", strokeWidth=1).encode(
            x=alt.value(0), x2=alt.value(W), y=alt.value(0)),
        alt.Chart(one).mark_rule(color="black", strokeWidth=1).encode(
            x=alt.value(0), x2=alt.value(W), y=alt.value(H)),
        alt.Chart(one).mark_rule(color="black", strokeWidth=1).encode(
            x=alt.value(0), y=alt.value(0), y2=alt.value(H)),
        # data
        alt.Chart(pd.DataFrame({"t": t, "val": vals})).mark_line(
            color=color, strokeWidth=1.3, clip=True).encode(x=X, y=Y, order="t:Q"),
    ]
    return alt.layer(*layers).properties(width=W, height=H)


p1 = panel(u_t, u_val, "#000000", [15, 30], [15, 20, 25, 30],
           [15 + i for i in range(16)], "𝑢̄+𝑢′ (m s⁻¹)", False)
p2 = panel(dir_t, dir_val, "#800080", [250, 340], [260, 280, 300, 320],
           [252 + 4 * i for i in range(23)], "Wind direction (°)", False)
p3 = panel(v_t, v_val, "#0000ff", [-5, 5], [-4, -2, 0, 2, 4],
           [round(-4.8 + 0.4 * i, 1) for i in range(25)], "𝑣 (m s⁻¹)", False)
p4 = panel(w_t, w_val, "#ff0000", [-5, 5], [-4, -2, 0, 2, 4],
           [round(-4.8 + 0.4 * i, 1) for i in range(25)], "𝑤 (m s⁻¹)", True)

chart = alt.vconcat(p1, p2, p3, p4, spacing=20, bounds="flush").properties(
    padding={"left": 13.5, "top": -1, "right": 0, "bottom": 0}
).configure_view(stroke="transparent").configure(background="white")

chart.save("out.html", embed_options={"renderer": "svg", "actions": False})
